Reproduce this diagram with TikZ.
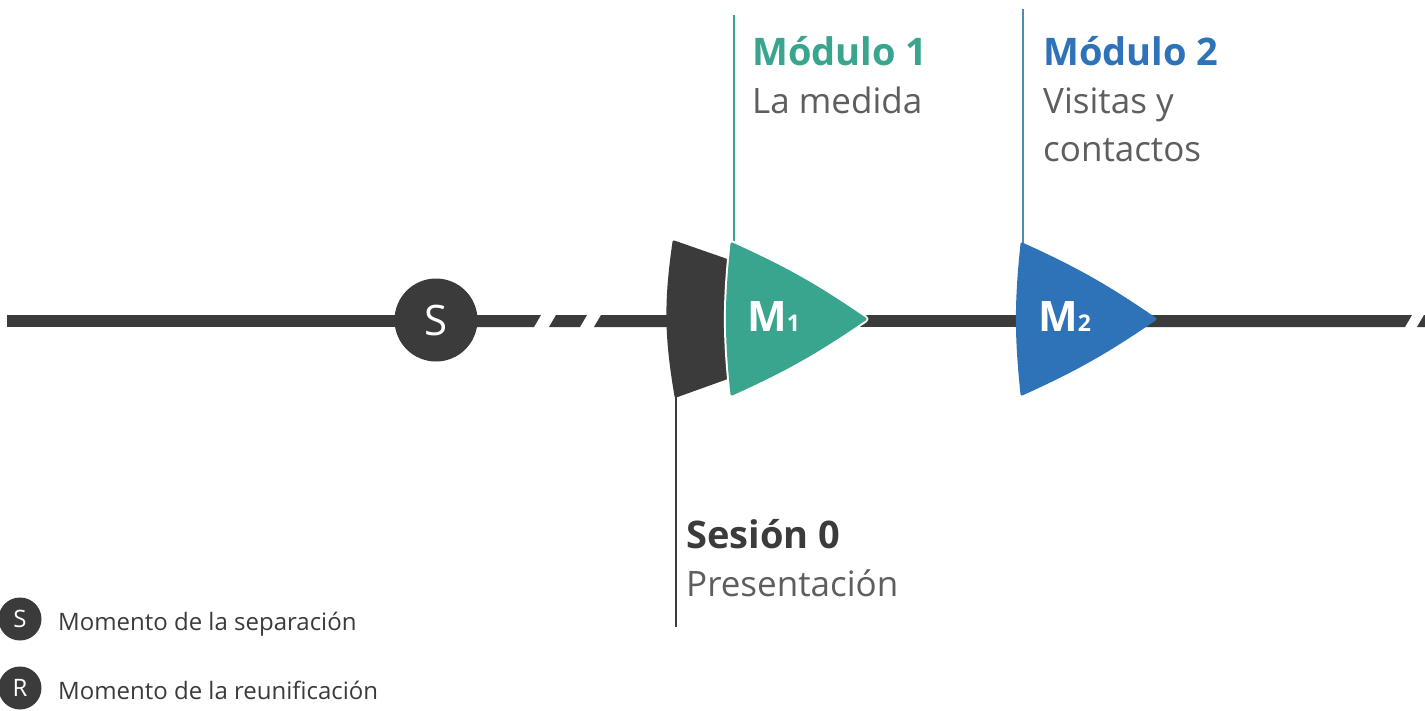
\documentclass[tikz,border=0pt]{standalone}
\usepackage{fontspec}
\setmainfont{Open Sans}
\definecolor{tealm}{HTML}{3AA58E}
\definecolor{bluem}{HTML}{2E73B8}
\definecolor{darkm}{HTML}{3B3B3B}
\definecolor{txtg}{HTML}{5E5E5E}
\definecolor{vline2}{HTML}{4F8DAE}
\tikzset{
  rtri/.pic={\path[pic actions] (0,-75) to[bend left=5] (133,0) to[bend left=5] (0,75) to[bend left=6] cycle;},
  seg/.style={fill=darkm},
  title/.style={anchor=base west, inner sep=0, font=\fontsize{38}{38}\selectfont\bfseries},
  sub/.style={anchor=base west, inner sep=0, text=txtg, font=\fontsize{35}{35}\selectfont},
  legdot/.style={circle, fill=darkm, minimum size=43pt, inner sep=0, text=white, font=\fontsize{24}{24}\selectfont},
  legtxt/.style={anchor=base west, inner sep=0, text=darkm, font=\fontsize{24}{24}\selectfont},
  mlab/.style={anchor=base west, inner sep=0, text=white, font=\bfseries}
}
\begin{document}
\begin{tikzpicture}[x=1pt,y=-1pt]
\fill[white] (0,0) rectangle (1425,710);
\useasboundingbox (0,0) rectangle (1425,710);
% coordinates
\coordinate (m1t) at (734,245);
\coordinate (m1e) at (734,15);
\coordinate (m2t) at (1023,245);
\coordinate (m2e) at (1023,9);
\coordinate (s0t) at (676,395);
\coordinate (s0e) at (676,627);
% timeline segments
\fill[seg] (7,315) rectangle (440,327);
\fill[seg] (440,315) -- (541,315) -- (534,327) -- (440,327) -- cycle;
\fill[seg] (556,315) -- (587,315) -- (580,327) -- (549,327) -- cycle;
\fill[seg] (601,315) -- (700,315) -- (700,327) -- (594,327) -- cycle;
\fill[seg] (800,315) rectangle (1100,327);
\fill[seg] (1100,315) -- (1412,315) -- (1405,327) -- (1100,327) -- cycle;
\fill[seg] (1424,315) -- (1432,315) -- (1425,327) -- (1417,327) -- cycle;
% vertical lines
\draw[tealm, line width=1.6pt] (m1t) -- (m1e);
\draw[vline2, line width=1.6pt] (m2t) -- (m2e);
\draw[darkm, line width=1.6pt] (s0t) -- (s0e);
% S circle
\node[circle, fill=darkm, minimum size=83pt, inner sep=0, text=white, font=\fontsize{42}{42}\selectfont] (s) at (436,320) {S};
% shapes
\fill[darkm, draw=darkm, line width=3pt, line join=round] (674,242) -- (740,265) -- (740,373) -- (676,396) to[bend left=9] cycle;
\pic[draw=white, line width=7pt, line join=round] at (732,319) {rtri};
\pic[fill=tealm, draw=tealm, line width=3pt, line join=round] at (732,319) {rtri};
\pic[fill=bluem, draw=bluem, line width=3pt, line join=round] at (1022,319) {rtri};
\node[mlab] (m1) at (747,331) {\fontsize{42}{42}\selectfont M\fontsize{23}{23}\selectfont 1};
\node[mlab] (m2) at (1038,331) {\fontsize{42}{42}\selectfont M\fontsize{23}{23}\selectfont 2};
% texts
\node[title, text=tealm] (t1) at (752,65) {Módulo 1};
\node[sub] (d1) at (752,113) {La medida};
\node[title, text=bluem] (t2) at (1043,65) {Módulo 2};
\node[sub] (d2a) at (1043,113) {Visitas y};
\node[sub] (d2b) at (1043,161) {contactos};
\node[title, text=darkm] (t0) at (686,548) {Sesión 0};
\node[sub] (d0) at (686,596) {Presentación};
% legend
\node[legdot] (ls) at (20,619) {S};
\node[legtxt] (lst) at (58,630) {Momento de la separación};
\node[legdot] (lr) at (20,688) {R};
\node[legtxt] (lrt) at (58,699) {Momento de la reunificación};
\end{tikzpicture}
\end{document}
